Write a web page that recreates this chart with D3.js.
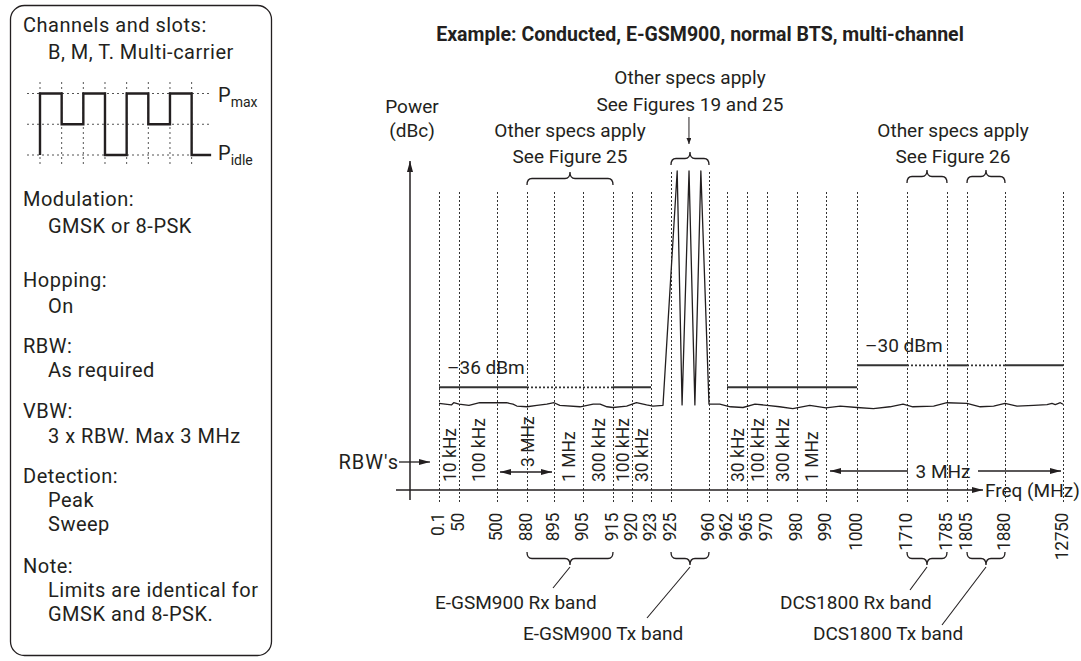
<!DOCTYPE html>
<html lang="en">
<head>
<meta charset="utf-8">
<title>Spurious emissions, E-GSM900 normal BTS, multi-channel</title>
<style>
body { margin: 0; background: #fff; }
svg text { font-family: Roboto, "Liberation Sans", sans-serif; fill: #231f20; }
</style>
</head>
<body>
<div id="chart"></div>
<script src="https://d3js.org/d3.v7.min.js"></script>
<script>
// ---- data ----
const title = "Example: Conducted, E-GSM900, normal BTS, multi-channel";

// frequency breakpoints on the (non-linear) x axis, MHz
const tickFreqs = [0.1, 50, 500, 880, 895, 905, 915, 920, 923, 925, 960, 962, 965,
  970, 980, 990, 1000, 1710, 1785, 1805, 1880, 12750];

// measured spectrum (noise floor + the three carriers), [MHz, dB]
const traceFreq = [0.1, 31, 36.8, 50, 168, 295, 500, 621, 703, 751, 880, 885.5, 891, 895,
  897, 904, 908.4, 910.7, 913, 915, 918.6, 920.7, 922.3, 923.2, 924.2,
  930.7, 935.2, 941.6, 947, 952.5, 960,
  961.2, 962.5, 964.4, 967, 970, 974.2, 978.6, 984.4, 990, 994.6, 1000, 1233, 1467, 1654,
  1721, 1760, 1785, 1805, 1831, 1857.5, 1880, 4129, 7240, 9751, 10688, 11306, 12244, 12750];
const traceLevel = [-40.4, -40.8, -40.2, -40.6, -40.9, -40.2, -40.2, -40.2, -40.6, -41.1, -41.3, -40.9, -40.6, -40.2,
  -40.9, -41.3, -40.6, -40.6, -41.3, -41.5, -41.1, -40.2, -40.8, -41.1, -40.9,
  23, -40.8, 23, -40.8, 23, -40.6,
  -40.6, -41.3, -41.5, -40.6, -40.9, -41.3, -41.8, -40.9, -41.6, -41.1, -41.5, -41.8, -41.3, -40.6,
  -41.3, -41.1, -40.2, -40.4, -41.3, -41.1, -40.4, -41.1, -40.9, -40.7, -40.4, -40.7, -40.2, -40.6];

// limit lines: [from MHz, to MHz, dBm, other specs apply]
const limitSegments = [
  [0.1, 880, -36, false], [880, 915, -36, true], [915, 923, -36, false],
  [962, 1000, -36, false],
  [1000, 1710, -30, false], [1710, 1785, -30, true], [1785, 1805, -30, false],
  [1805, 1880, -30, true], [1880, 12750, -30, false]
];
const limitLabels = [[0.1, -36, "\u201336 dBm"], [1000, -30, "\u201330 dBm"]];

// resolution bandwidths per frequency span
const rbwFrom = [0.1, 50, 895, 905, 915, 920, 962, 965, 970, 980];
const rbwTo = [50, 500, 905, 915, 920, 923, 965, 970, 980, 990];
const rbwText = ["10 kHz", "100 kHz", "1 MHz", "300 kHz", "100 kHz", "30 kHz",
  "30 kHz", "100 kHz", "300 kHz", "1 MHz"];
const wideRbw = [[500, 895, "3 MHz"], [990, 12750, "3 MHz"]];

// bands
const bandFrom = [880, 925, 1710, 1805];
const bandTo = [915, 960, 1785, 1880];
const bandNames = ["E-GSM900 Rx band", "E-GSM900 Tx band", "DCS1800 Rx band", "DCS1800 Tx band"];

// left info panel
const panelLines = [
  ["Channels and slots:", 0], ["B, M, T. Multi-carrier", 1],
  ["Modulation:", 0], ["GMSK or 8-PSK", 1],
  ["Hopping:", 0], ["On", 1],
  ["RBW:", 0], ["As required", 1],
  ["VBW:", 0], ["3 x RBW. Max 3 MHz", 1],
  ["Detection:", 0], ["Peak", 1], ["Sweep", 1],
  ["Note:", 0], ["Limits are identical for", 1], ["GMSK and 8-PSK.", 1]
];
const slotLevels = ["max", "mid", "max", "idle", "max", "mid", "max"];

// ---- layout ----
const ink = "#231f20";
const width = 1081, height = 661;
const tickX = [439, 459, 497, 527, 554, 583, 613, 632, 651, 671, 709, 727, 747, 767,
  797, 826, 857, 907, 947, 967, 1005, 1063];
const axisY = 490, axisX = 410;

const svg = d3.select("#chart").append("svg")
  .attr("width", width).attr("height", height);

const defs = svg.append("defs");
function marker(id, w, h) {
  defs.append("marker").attr("id", id)
    .attr("viewBox", `0 0 ${w} ${h}`)
    .attr("refX", w).attr("refY", h / 2)
    .attr("markerWidth", w).attr("markerHeight", h)
    .attr("markerUnits", "userSpaceOnUse")
    .attr("orient", "auto-start-reverse")
    .append("path").attr("d", `M0,0L${w},${h / 2}L0,${h}Z`).attr("fill", ink);
}
marker("arr", 11, 6);
marker("arrS", 6, 5);

// ---- left panel ----
const panel = svg.append("g");
panel.append("rect")
  .attr("x", 10.5).attr("y", 5.5).attr("width", 261).attr("height", 650).attr("rx", 14)
  .attr("fill", "none").attr("stroke", ink).attr("stroke-width", 1.3);

const panelY = [31.5, 59, 206, 233, 287, 313, 353, 377, 418, 443, 483, 507, 531, 573, 597, 621];
panel.selectAll("text.info")
  .data(panelLines)
  .enter().append("text")
  .attr("class", "info")
  .attr("x", d => d[1] ? 48 : 23)
  .attr("y", (d, i) => panelY[i])
  .attr("font-size", 20).attr("letter-spacing", 0.5)
  .text(d => d[0]);

// slot diagram
const sx = d3.scaleLinear().domain([0, 8]).range([40, 213.3]);
const sy = d3.scalePoint().domain(["max", "mid", "idle"]).range([93.5, 155]);
const slotGrid = panel.append("g")
  .attr("stroke", "#555").attr("stroke-width", 1).attr("stroke-dasharray", "2,3");
slotGrid.selectAll("line.h").data(sy.domain()).enter().append("line")
  .attr("x1", 27).attr("x2", 210).attr("y1", d => sy(d)).attr("y2", d => sy(d));
slotGrid.selectAll("line.v").data(d3.range(8)).enter().append("line")
  .attr("x1", d => sx(d)).attr("x2", d => sx(d)).attr("y1", 82).attr("y2", 166);

const stepPts = [[0, "idle"]].concat(slotLevels.map((l, i) => [i, l]), [[7, "idle"], [7.9, "idle"]]);
panel.append("path")
  .attr("d", d3.line().x(d => sx(d[0])).y(d => sy(d[1])).curve(d3.curveStepAfter)(stepPts))
  .attr("fill", "none").attr("stroke", ink).attr("stroke-width", 2.4);

[["max", 102], ["idle", 160]].forEach(([sub, yb]) => {
  const t = panel.append("text").attr("x", 218).attr("y", yb).attr("font-size", 20);
  t.append("tspan").text("P");
  t.append("tspan").attr("font-size", 14).attr("dy", 5).text(sub);
});

// ---- chart ----
const x = d3.scaleLinear().domain(tickFreqs).range(tickX);
const y = d3.scaleLinear().domain([-64, 23]).range([axisY, 171]);

svg.append("text")
  .attr("x", 700).attr("y", 41).attr("text-anchor", "middle")
  .attr("font-weight", "bold").attr("font-size", 19.5)
  .text(title);

// dotted frequency lines
svg.append("g").selectAll("line")
  .data(tickFreqs).enter().append("line")
  .attr("x1", d => x(d) + 0.5).attr("x2", d => x(d) + 0.5)
  .attr("y1", d => (d === 925 || d === 960) ? 172 : 192)
  .attr("y2", 502)
  .attr("stroke", "#333").attr("stroke-width", 1).attr("stroke-dasharray", "2,2");

// axes
svg.append("line")
  .attr("x1", axisX).attr("x2", axisX).attr("y1", 500).attr("y2", 161)
  .attr("stroke", ink).attr("stroke-width", 1.5).attr("marker-end", "url(#arr)");
svg.append("line")
  .attr("x1", 396).attr("x2", 983).attr("y1", axisY).attr("y2", axisY)
  .attr("stroke", ink).attr("stroke-width", 1.5).attr("marker-end", "url(#arr)");
svg.append("text").attr("x", 985).attr("y", 497).attr("font-size", 19).text("Freq (MHz)");
svg.append("text").attr("x", 412).attr("y", 113).attr("text-anchor", "middle")
  .attr("font-size", 19).text("Power");
svg.append("text").attr("x", 412).attr("y", 137).attr("text-anchor", "middle")
  .attr("font-size", 19).text("(dBc)");

// frequency tick labels
const xAxis = svg.append("g")
  .attr("transform", `translate(0,513)`)
  .call(d3.axisBottom(x).tickValues(tickFreqs).tickSize(0).tickFormat(d => String(d)));
xAxis.select(".domain").remove();
xAxis.attr("font-family", null).attr("font-size", null);
xAxis.selectAll("text")
  .attr("x", null).attr("y", 0).attr("dy", null)
  .attr("text-anchor", "end")
  .attr("font-size", 17.5).attr("letter-spacing", -0.4)
  .attr("transform", "translate(4.5,0) rotate(-90)");

// limit lines
svg.append("g").selectAll("line")
  .data(limitSegments).enter().append("line")
  .attr("x1", d => x(d[0])).attr("x2", d => x(d[1]))
  .attr("y1", d => y(d[2])).attr("y2", d => y(d[2]))
  .attr("stroke", "#333")
  .attr("stroke-width", d => d[3] ? 1.6 : 2)
  .attr("stroke-dasharray", d => d[3] ? "2,2" : null);
svg.selectAll("text.limit")
  .data(limitLabels).enter().append("text")
  .attr("class", "limit")
  .attr("x", d => x(d[0]) + 8).attr("y", d => y(d[1]) - 13.5)
  .attr("font-size", 19)
  .text(d => d[2]);

// spectrum trace
const trace = traceFreq.map((f, i) => [f, traceLevel[i]]);
svg.append("path")
  .attr("d", d3.line().x(d => x(d[0])).y(d => y(d[1]))(trace))
  .attr("fill", "none").attr("stroke", ink).attr("stroke-width", 1.3)
  .attr("stroke-linejoin", "round");

// RBW labels
svg.append("g").selectAll("text")
  .data(rbwText).enter().append("text")
  .attr("transform", (d, i) => `translate(${(x(rbwFrom[i]) + x(rbwTo[i])) / 2 + 0.5},482) rotate(-90)`)
  .attr("dy", "0.36em")
  .attr("font-size", 17.5)
  .text(d => d);

// 3 MHz, rotated inside the 500..895 span
const w0 = wideRbw[0];
svg.append("line")
  .attr("x1", x(w0[0]) + 3).attr("x2", x(w0[1]) - 2).attr("y1", 472).attr("y2", 472)
  .attr("stroke", ink).attr("stroke-width", 1.3)
  .attr("marker-start", "url(#arr)").attr("marker-end", "url(#arr)");
svg.append("text")
  .attr("transform", `translate(${x(880) + 0.5},467) rotate(-90)`)
  .attr("dy", "0.36em").attr("font-size", 17.5).text(w0[2]);

// 3 MHz, horizontal across 990..12750
const w1 = wideRbw[1];
const w1mid = 943;
svg.append("line")
  .attr("x1", w1mid - 35).attr("x2", x(w1[0]) + 4).attr("y1", 471).attr("y2", 471)
  .attr("stroke", ink).attr("stroke-width", 1.3).attr("marker-end", "url(#arr)");
svg.append("line")
  .attr("x1", w1mid + 35).attr("x2", x(w1[1]) - 2).attr("y1", 471).attr("y2", 471)
  .attr("stroke", ink).attr("stroke-width", 1.3).attr("marker-end", "url(#arr)");
svg.append("text").attr("x", w1mid).attr("y", 477.5).attr("text-anchor", "middle")
  .attr("font-size", 19).text(w1[2]);

// RBW's pointer
svg.append("text").attr("x", 399).attr("y", 468.5).attr("text-anchor", "end")
  .attr("font-size", 20).attr("letter-spacing", 1).text("RBW's");
svg.append("line").attr("x1", 399).attr("x2", 430).attr("y1", 462).attr("y2", 462)
  .attr("stroke", ink).attr("stroke-width", 1.3).attr("marker-end", "url(#arr)");

// curly braces
function brace(x0, x1, yh, dir) {
  // dir = -1: tip points up, ends down; dir = 1: tip points down, ends up
  const xm = (x0 + x1) / 2, r = 5, e = yh - dir * 6.5, t = yh + dir * 6.5;
  return `M${x0},${e}Q${x0},${yh} ${x0 + r},${yh}L${xm - r},${yh}Q${xm},${yh} ${xm},${t}` +
    `Q${xm},${yh} ${xm + r},${yh}L${x1 - r},${yh}Q${x1},${yh} ${x1},${e}`;
}
const braceG = svg.append("g").attr("fill", "none").attr("stroke", ink).attr("stroke-width", 1.3);
const topBraceY = [178.5, 158.5, 176.5, 176.5];
bandFrom.forEach((f, i) => {
  braceG.append("path").attr("d", brace(x(f), x(bandTo[i]), topBraceY[i], -1));
  braceG.append("path").attr("d", brace(x(f), x(bandTo[i]), 558.5, 1));
});

// top notes
const notes = [
  [(x(880) + x(915)) / 2, 136.5, ["Other specs apply", "See Figure 25"]],
  [(x(925) + x(960)) / 2, 84, ["Other specs apply", "See Figures 19 and 25"]],
  [953, 136.5, ["Other specs apply", "See Figure 26"]]
];
notes.forEach(([nx, ny, lines]) => {
  lines.forEach((l, j) => {
    svg.append("text").attr("x", nx).attr("y", ny + j * 26.5)
      .attr("text-anchor", "middle").attr("font-size", 19).text(l);
  });
});
svg.append("line")
  .attr("x1", x(942) - 0.5).attr("x2", x(942) - 0.5).attr("y1", 117).attr("y2", 144)
  .attr("stroke", ink).attr("stroke-width", 1).attr("marker-end", "url(#arrS)");

// band labels with leader lines
const bandLabelX = [435, 523, 780, 813];
const bandLabelY = [608.5, 640, 608.5, 640];
const leaderEnd = [[553, 588], [647, 618], [910, 590], [942, 625]];
bandNames.forEach((name, i) => {
  const xm = (x(bandFrom[i]) + x(bandTo[i])) / 2;
  svg.append("line")
    .attr("x1", xm).attr("y1", 567).attr("x2", leaderEnd[i][0]).attr("y2", leaderEnd[i][1])
    .attr("stroke", ink).attr("stroke-width", 1.1);
  svg.append("text").attr("x", bandLabelX[i]).attr("y", bandLabelY[i])
    .attr("font-size", 19).text(name);
});
</script>
</body>
</html>
